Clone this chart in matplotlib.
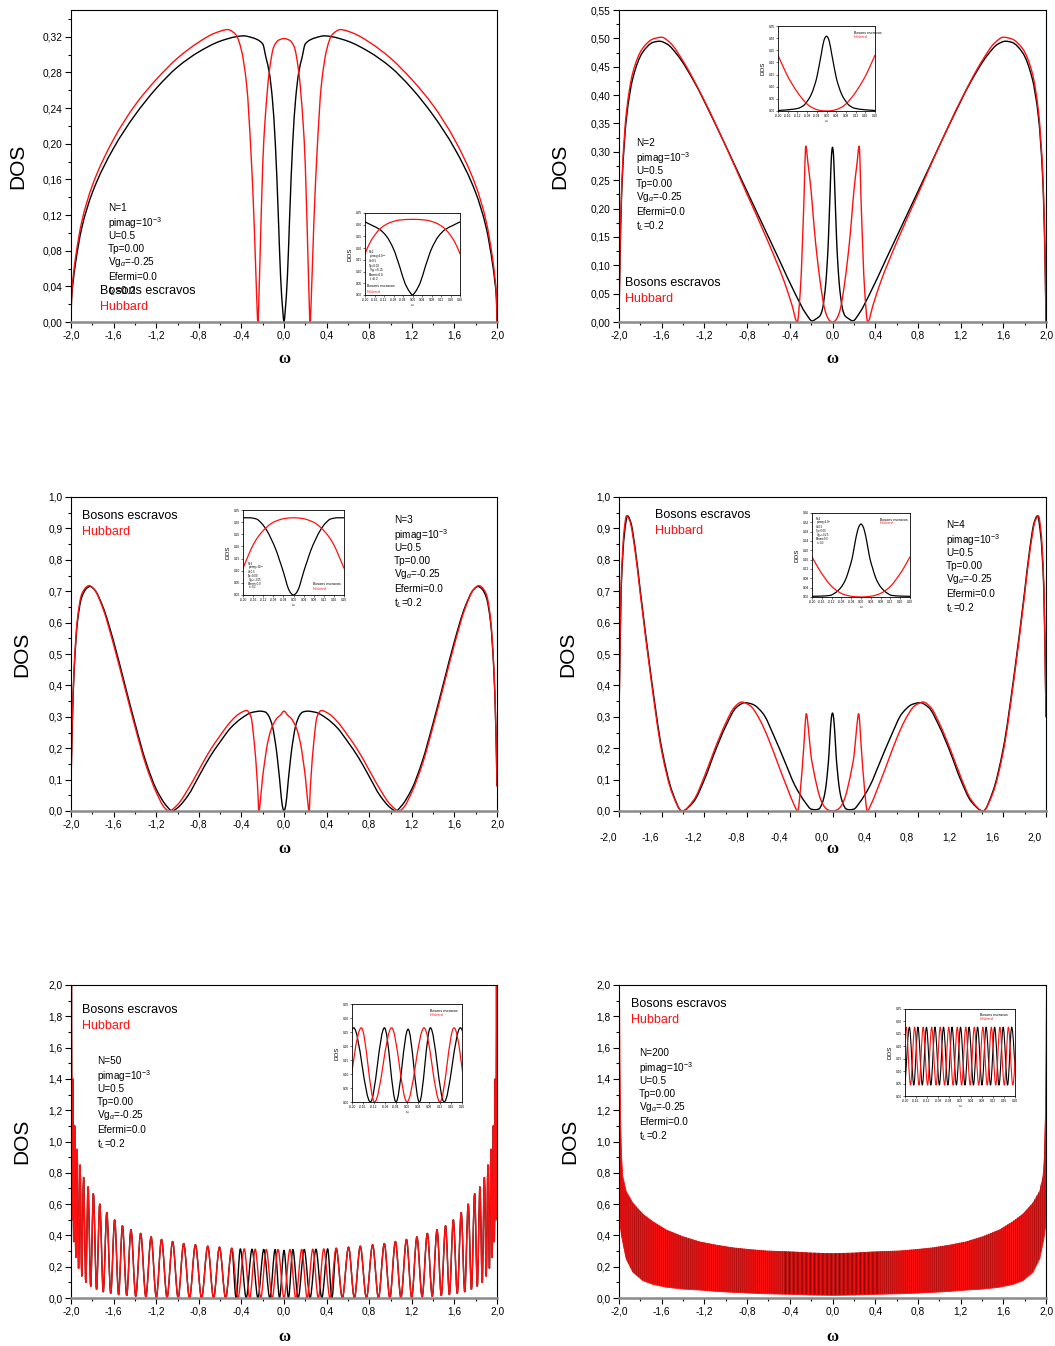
import matplotlib
matplotlib.use('Agg')
from matplotlib import pyplot as plt
from matplotlib.path import Path
from matplotlib.patches import PathPatch
from matplotlib.ticker import MultipleLocator, FuncFormatter
from matplotlib.transforms import ScaledTranslation

plt.rcParams['font.family'] = ['Liberation Sans', 'DejaVu Sans']
plt.rcParams['mathtext.fontset'] = 'custom'
plt.rcParams['mathtext.rm'] = 'Liberation Sans'
plt.rcParams['mathtext.it'] = 'Liberation Sans:italic'
plt.rcParams['hatch.linewidth'] = 0.7

RED = '#ff1010'
W, H = 1055, 1346

# ---------------- N=1 ----------------
n1_black_x = [-2.0, -1.995, -1.98, -1.96, -1.9, -1.8, -1.6, -1.4, -1.2, -1.0, -0.8, -0.6, -0.45, -0.38,
              -0.3, -0.2, -0.17, -0.137, -0.109, -0.081, -0.053, -0.032, -0.011, 0.0,
              0.011, 0.032, 0.053, 0.081, 0.109, 0.137, 0.17, 0.2, 0.3, 0.38, 0.45, 0.6, 0.8,
              1.0, 1.2, 1.4, 1.6, 1.8, 1.9, 1.96, 1.98, 1.995, 2.0]
n1_black_y = [0.0, 0.025, 0.045, 0.064, 0.105, 0.145, 0.195, 0.232, 0.262, 0.286, 0.303, 0.315, 0.32, 0.321,
              0.319, 0.312, 0.297, 0.279, 0.25, 0.199, 0.118, 0.051, 0.012, 0.0,
              0.012, 0.051, 0.118, 0.199, 0.25, 0.279, 0.297, 0.312, 0.319, 0.321, 0.32, 0.315, 0.303,
              0.286, 0.262, 0.232, 0.195, 0.145, 0.105, 0.064, 0.045, 0.025, 0.0]
n1_red_x = [-2.0, -1.995, -1.98, -1.96, -1.9, -1.8, -1.6, -1.4, -1.2, -1.0, -0.8, -0.65, -0.53, -0.45,
            -0.4, -0.35, -0.31, -0.28, -0.26, -0.245, -0.23, -0.2, -0.179, -0.137, -0.095, -0.053, 0.0,
            0.053, 0.095, 0.137, 0.179, 0.2, 0.23, 0.245, 0.26, 0.28, 0.31, 0.35, 0.4, 0.45, 0.53,
            0.65, 0.8, 1.0, 1.2, 1.4, 1.6, 1.8, 1.9, 1.96, 1.98, 1.995, 2.0]
n1_red_y = [0.0, 0.028, 0.05, 0.07, 0.112, 0.153, 0.205, 0.243, 0.272, 0.296, 0.314, 0.324, 0.328, 0.322,
            0.305, 0.265, 0.19, 0.11, 0.04, 0.0, 0.05, 0.176, 0.224, 0.282, 0.309, 0.316, 0.318,
            0.316, 0.309, 0.282, 0.224, 0.176, 0.05, 0.0, 0.04, 0.11, 0.19, 0.265, 0.305, 0.322, 0.328,
            0.324, 0.314, 0.296, 0.272, 0.243, 0.205, 0.153, 0.112, 0.07, 0.05, 0.028, 0.0]
n1_in_black_x = [-0.2, -0.17, -0.137, -0.109, -0.081, -0.053, -0.032, -0.011, 0.0, 0.011, 0.032, 0.053, 0.081, 0.109, 0.137, 0.17, 0.2]
n1_in_black_y = [0.312, 0.297, 0.279, 0.25, 0.199, 0.118, 0.051, 0.012, 0.0, 0.012, 0.051, 0.118, 0.199, 0.25, 0.279, 0.297, 0.312]
n1_in_red_x = [-0.2, -0.179, -0.158, -0.137, -0.116, -0.095, -0.053, 0.0, 0.053, 0.095, 0.116, 0.137, 0.158, 0.179, 0.2]
n1_in_red_y = [0.176, 0.224, 0.257, 0.282, 0.298, 0.309, 0.32, 0.323, 0.32, 0.309, 0.298, 0.282, 0.257, 0.224, 0.176]

# ---------------- N=2 ----------------
n2_black_x = [-2.0, -1.99, -1.97, -1.93, -1.87, -1.78, -1.68, -1.62, -1.55, -1.45, -1.3, -1.1, -0.9, -0.7,
              -0.5, -0.35, -0.25, -0.19, -0.15, -0.117, -0.095, -0.076, -0.062, -0.051, -0.042, -0.034,
              -0.027, -0.021, -0.013, -0.006, 0.0, 0.006, 0.013, 0.021, 0.027, 0.034, 0.042, 0.051, 0.062,
              0.076, 0.095, 0.117, 0.15, 0.19, 0.25, 0.35, 0.5, 0.7, 0.9, 1.1, 1.3, 1.45, 1.55, 1.62,
              1.68, 1.78, 1.87, 1.93, 1.97, 1.99, 2.0]
n2_black_y = [0.0, 0.12, 0.25, 0.36, 0.43, 0.475, 0.493, 0.495, 0.49, 0.47, 0.425, 0.35, 0.27, 0.19,
              0.11, 0.05, 0.015, 0.002, 0.006, 0.011, 0.022, 0.045, 0.07, 0.1, 0.13, 0.168,
              0.205, 0.237, 0.28, 0.302, 0.308, 0.302, 0.28, 0.237, 0.205, 0.168, 0.13, 0.1, 0.07,
              0.045, 0.022, 0.011, 0.006, 0.002, 0.015, 0.05, 0.11, 0.19, 0.27, 0.35, 0.425, 0.47, 0.49, 0.495,
              0.493, 0.475, 0.43, 0.36, 0.25, 0.12, 0.0]
n2_red_x = [-2.0, -1.99, -1.97, -1.93, -1.87, -1.78, -1.68, -1.6, -1.52, -1.4, -1.2, -1.0, -0.8, -0.6,
            -0.45, -0.38, -0.33, -0.3, -0.27, -0.25, -0.23, -0.2, -0.18, -0.159, -0.138, -0.117, -0.096,
            -0.076, -0.055, -0.034, -0.017, 0.0, 0.017, 0.034, 0.055, 0.076, 0.096, 0.117, 0.138, 0.159,
            0.18, 0.2, 0.23, 0.25, 0.27, 0.3, 0.33, 0.38, 0.45, 0.6, 0.8, 1.0, 1.2, 1.4, 1.52, 1.6,
            1.68, 1.78, 1.87, 1.93, 1.97, 1.99, 2.0]
n2_red_y = [0.0, 0.13, 0.26, 0.37, 0.44, 0.482, 0.499, 0.502, 0.492, 0.46, 0.39, 0.31, 0.225, 0.14,
            0.07, 0.03, 0.0, 0.06, 0.2, 0.31, 0.28, 0.23, 0.185, 0.141, 0.105, 0.073, 0.046,
            0.025, 0.012, 0.004, 0.001, 0.0, 0.001, 0.004, 0.012, 0.025, 0.046, 0.073, 0.105, 0.141,
            0.185, 0.23, 0.28, 0.31, 0.2, 0.06, 0.0, 0.03, 0.07, 0.14, 0.225, 0.31, 0.39, 0.46, 0.492, 0.502,
            0.499, 0.482, 0.44, 0.37, 0.26, 0.13, 0.0]
n2_in_black_x = [-0.2, -0.186, -0.15, -0.117, -0.095, -0.076, -0.062, -0.051, -0.042, -0.034, -0.027, -0.021,
                 -0.013, -0.006, 0.0, 0.006, 0.013, 0.021, 0.027, 0.034, 0.042, 0.051, 0.062, 0.076, 0.095,
                 0.117, 0.15, 0.186, 0.2]
n2_in_black_y = [0.002, 0.003, 0.006, 0.011, 0.022, 0.045, 0.07, 0.1, 0.13, 0.168, 0.205, 0.237,
                 0.28, 0.302, 0.308, 0.302, 0.28, 0.237, 0.205, 0.168, 0.13, 0.1, 0.07, 0.045, 0.022,
                 0.011, 0.006, 0.003, 0.002]
n2_in_red_x = [-0.2, -0.18, -0.159, -0.138, -0.117, -0.096, -0.076, -0.055, -0.034, -0.017, 0.0,
               0.017, 0.034, 0.055, 0.076, 0.096, 0.117, 0.138, 0.159, 0.18, 0.2]
n2_in_red_y = [0.23, 0.185, 0.141, 0.105, 0.073, 0.046, 0.025, 0.012, 0.004, 0.001, 0.0,
               0.001, 0.004, 0.012, 0.025, 0.046, 0.073, 0.105, 0.141, 0.185, 0.23]

# ---------------- N=3 ----------------
n3_black_x = [-2.0, -1.99, -1.97, -1.94, -1.9, -1.85, -1.82, -1.78, -1.7, -1.6, -1.5, -1.4, -1.3, -1.2,
              -1.1, -1.05, -1.0, -0.9, -0.8, -0.7, -0.6, -0.5, -0.4, -0.3, -0.22, -0.175, -0.147, -0.127,
              -0.107, -0.088, -0.068, -0.055, -0.041, -0.031, -0.021, -0.01, 0.0, 0.01, 0.021, 0.031, 0.041,
              0.055, 0.068, 0.088, 0.107, 0.127, 0.147, 0.175, 0.22, 0.3, 0.4, 0.5, 0.6, 0.7, 0.8, 0.9, 1.0,
              1.05, 1.1, 1.2, 1.3, 1.4, 1.5, 1.6, 1.7, 1.78, 1.82, 1.85, 1.9, 1.94, 1.97, 1.99, 2.0]
n3_black_y = [0.08, 0.25, 0.45, 0.6, 0.68, 0.71, 0.715, 0.705, 0.65, 0.54, 0.41, 0.28, 0.16, 0.07,
              0.015, 0.0, 0.01, 0.05, 0.11, 0.17, 0.22, 0.265, 0.295, 0.314, 0.318, 0.315, 0.305, 0.29,
              0.268, 0.232, 0.185, 0.145, 0.1, 0.063, 0.03, 0.008, 0.0, 0.008, 0.03, 0.063, 0.1,
              0.145, 0.185, 0.232, 0.268, 0.29, 0.305, 0.315, 0.318, 0.314, 0.295, 0.265, 0.22, 0.17, 0.11, 0.05, 0.01,
              0.0, 0.015, 0.07, 0.16, 0.28, 0.41, 0.54, 0.65, 0.705, 0.715, 0.71, 0.68, 0.6, 0.45, 0.25, 0.08]
n3_red_x = [-2.0, -1.99, -1.97, -1.94, -1.9, -1.85, -1.83, -1.78, -1.7, -1.6, -1.5, -1.4, -1.3, -1.2,
            -1.12, -1.08, -1.0, -0.9, -0.8, -0.7, -0.6, -0.5, -0.42, -0.35, -0.31, -0.28, -0.25, -0.235,
            -0.22, -0.2, -0.18, -0.16, -0.14, -0.12, -0.09, -0.068, -0.035, 0.0, 0.035, 0.068, 0.09, 0.12,
            0.14, 0.16, 0.18, 0.2, 0.22, 0.235, 0.25, 0.28, 0.31, 0.35, 0.42, 0.5, 0.6, 0.7, 0.8, 0.9,
            1.0, 1.08, 1.12, 1.2, 1.3, 1.4, 1.5, 1.6, 1.7, 1.78, 1.83, 1.85, 1.9, 1.94, 1.97, 1.99, 2.0]
n3_red_y = [0.08, 0.26, 0.46, 0.61, 0.69, 0.715, 0.718, 0.705, 0.645, 0.53, 0.4, 0.27, 0.15, 0.06,
            0.01, 0.0, 0.02, 0.07, 0.13, 0.19, 0.24, 0.285, 0.31, 0.32, 0.3, 0.22, 0.09, 0.0,
            0.04, 0.11, 0.16, 0.206, 0.237, 0.261, 0.283, 0.295, 0.305, 0.318, 0.305, 0.295, 0.283, 0.261,
            0.237, 0.206, 0.16, 0.11, 0.04, 0.0, 0.09, 0.22, 0.3, 0.32, 0.31, 0.285, 0.24, 0.19, 0.13, 0.07,
            0.02, 0.0, 0.01, 0.06, 0.15, 0.27, 0.4, 0.53, 0.645, 0.705, 0.718, 0.715, 0.69, 0.61, 0.46, 0.26, 0.08]
n3_in_black_x = [-0.2, -0.175, -0.147, -0.127, -0.107, -0.088, -0.068, -0.055, -0.041, -0.031, -0.021, -0.01, 0.0,
                 0.01, 0.021, 0.031, 0.041, 0.055, 0.068, 0.088, 0.107, 0.127, 0.147, 0.175, 0.2]
n3_in_black_y = [0.318, 0.318, 0.313, 0.296, 0.268, 0.23, 0.182, 0.142, 0.098, 0.062, 0.028, 0.007, 0.0,
                 0.007, 0.028, 0.062, 0.098, 0.142, 0.182, 0.23, 0.268, 0.296, 0.313, 0.318, 0.318]
n3_in_red_x = [-0.2, -0.18, -0.16, -0.14, -0.12, -0.09, -0.068, -0.035, 0.0, 0.035, 0.068, 0.09, 0.12, 0.14, 0.16, 0.18, 0.2]
n3_in_red_y = [0.11, 0.16, 0.206, 0.24, 0.265, 0.293, 0.305, 0.315, 0.318, 0.315, 0.305, 0.293, 0.265, 0.24, 0.206, 0.16, 0.11]

# ---------------- N=4 ----------------
n4_black_x = [-2.0, -1.98, -1.95, -1.92, -1.89, -1.85, -1.8, -1.7, -1.6, -1.5, -1.41, -1.3, -1.2, -1.1, -1.0,
              -0.9, -0.82, -0.75, -0.65, -0.55, -0.45, -0.35, -0.25, -0.2, -0.16, -0.125, -0.105, -0.085,
              -0.07, -0.058, -0.047, -0.037, -0.03, -0.024, -0.015, -0.007, 0.0, 0.007, 0.015, 0.024, 0.03,
              0.037, 0.047, 0.058, 0.07, 0.085, 0.105, 0.125, 0.16, 0.2, 0.25, 0.35, 0.45, 0.55, 0.65, 0.75,
              0.82, 0.9, 1.0, 1.1, 1.2, 1.3, 1.41, 1.5, 1.6, 1.7, 1.8, 1.85, 1.89, 1.92, 1.95, 1.98, 2.0]
n4_black_y = [0.3, 0.7, 0.88, 0.94, 0.92, 0.84, 0.7, 0.43, 0.2, 0.06, 0.0, 0.03, 0.1, 0.19, 0.27,
              0.33, 0.345, 0.34, 0.31, 0.24, 0.16, 0.08, 0.025, 0.006, 0.004, 0.007, 0.018, 0.037,
              0.06, 0.088, 0.125, 0.162, 0.2, 0.235, 0.28, 0.305, 0.312, 0.305, 0.28, 0.235, 0.2,
              0.162, 0.125, 0.088, 0.06, 0.037, 0.018, 0.007, 0.004, 0.006, 0.025, 0.08, 0.16, 0.24, 0.31, 0.34,
              0.345, 0.33, 0.27, 0.19, 0.1, 0.03, 0.0, 0.06, 0.2, 0.43, 0.7, 0.84, 0.92, 0.94, 0.88, 0.7, 0.3]
n4_red_x = [-2.0, -1.98, -1.95, -1.93, -1.9, -1.85, -1.8, -1.7, -1.6, -1.5, -1.41, -1.3, -1.2, -1.1, -1.0,
            -0.92, -0.85, -0.77, -0.68, -0.6, -0.5, -0.42, -0.36, -0.326, -0.3, -0.27, -0.245, -0.225,
            -0.2, -0.183, -0.166, -0.145, -0.125, -0.105, -0.085, -0.064, -0.044, -0.02, 0.0, 0.02, 0.044,
            0.064, 0.085, 0.105, 0.125, 0.145, 0.166, 0.183, 0.2, 0.225, 0.245, 0.27, 0.3, 0.326, 0.36,
            0.42, 0.5, 0.6, 0.68, 0.77, 0.85, 0.92, 1.0, 1.1, 1.2, 1.3, 1.41, 1.5, 1.6, 1.7, 1.8, 1.85,
            1.9, 1.93, 1.95, 1.98, 2.0]
n4_red_y = [0.3, 0.72, 0.9, 0.94, 0.925, 0.83, 0.69, 0.42, 0.19, 0.055, 0.0, 0.035, 0.11, 0.2, 0.28,
            0.33, 0.347, 0.335, 0.29, 0.23, 0.14, 0.07, 0.02, 0.0, 0.07, 0.2, 0.31, 0.26,
            0.172, 0.14, 0.11, 0.078, 0.051, 0.032, 0.018, 0.009, 0.004, 0.001, 0.0, 0.001, 0.004,
            0.009, 0.018, 0.032, 0.051, 0.078, 0.11, 0.14, 0.172, 0.26, 0.31, 0.2, 0.07, 0.0, 0.02,
            0.07, 0.14, 0.23, 0.29, 0.335, 0.347, 0.33, 0.28, 0.2, 0.11, 0.035, 0.0, 0.055, 0.19, 0.42, 0.69, 0.83,
            0.925, 0.94, 0.9, 0.72, 0.3]
n4_in_black_x = [-0.2, -0.16, -0.125, -0.105, -0.085, -0.07, -0.058, -0.047, -0.037, -0.03, -0.024, -0.015,
                 -0.007, 0.0, 0.007, 0.015, 0.024, 0.03, 0.037, 0.047, 0.058, 0.07, 0.085, 0.105, 0.125, 0.16, 0.2]
n4_in_black_y = [0.003, 0.004, 0.007, 0.018, 0.037, 0.06, 0.088, 0.125, 0.162, 0.2, 0.235, 0.28,
                 0.305, 0.313, 0.305, 0.28, 0.235, 0.2, 0.162, 0.125, 0.088, 0.06, 0.037, 0.018, 0.007, 0.004, 0.003]
n4_in_red_x = [-0.2, -0.183, -0.166, -0.145, -0.125, -0.105, -0.085, -0.064, -0.044, -0.02, 0.0,
               0.02, 0.044, 0.064, 0.085, 0.105, 0.125, 0.145, 0.166, 0.183, 0.2]
n4_in_red_y = [0.172, 0.14, 0.11, 0.078, 0.051, 0.032, 0.018, 0.009, 0.004, 0.001, 0.0,
               0.001, 0.004, 0.009, 0.018, 0.032, 0.051, 0.078, 0.11, 0.14, 0.172]

# ---------------- N=50 (extrema, alternating) ----------------
n50_left_x = [-2.0, -1.996, -1.99, -1.984, -1.975, -1.966, -1.955, -1.943, -1.929, -1.915, -1.899, -1.882,
              -1.861, -1.84, -1.815, -1.79, -1.76, -1.73, -1.697, -1.664, -1.627, -1.59, -1.553, -1.517,
              -1.477, -1.437, -1.392, -1.346, -1.297, -1.248, -1.199, -1.15, -1.098, -1.046, -0.994, -0.942,
              -0.887, -0.832, -0.774, -0.716, -0.661, -0.606, -0.548, -0.49]
n50_left_y = [0.7, 2.0, 0.5, 1.4, 0.36, 1.1, 0.26, 0.95, 0.19, 0.85, 0.14, 0.77,
              0.1, 0.71, 0.075, 0.667, 0.055, 0.6, 0.04, 0.546, 0.03, 0.499, 0.022, 0.462,
              0.016, 0.437, 0.011, 0.413, 0.007, 0.391, 0.004, 0.374, 0.002, 0.361, 0.0, 0.348,
              0.0, 0.34, 0.0, 0.331, 0.0, 0.325, 0.0, 0.318]
n50_right_x = [0.49, 0.548, 0.606, 0.661, 0.716, 0.774, 0.832, 0.887, 0.942, 0.994, 1.046, 1.098, 1.15,
               1.199, 1.248, 1.297, 1.346, 1.392, 1.437, 1.477, 1.517, 1.553, 1.59, 1.627, 1.664, 1.697,
               1.73, 1.76, 1.79, 1.815, 1.84, 1.861, 1.882, 1.899, 1.915, 1.929, 1.943, 1.955, 1.966,
               1.975, 1.984, 1.99, 1.996, 2.0]
n50_right_y = [0.318, 0.0, 0.325, 0.0, 0.331, 0.0, 0.34, 0.0, 0.348, 0.0, 0.361, 0.002, 0.374,
               0.004, 0.391, 0.007, 0.413, 0.011, 0.437, 0.016, 0.462, 0.022, 0.499, 0.03, 0.546, 0.04,
               0.6, 0.055, 0.667, 0.075, 0.71, 0.1, 0.77, 0.14, 0.85, 0.19, 0.95, 0.26, 1.1,
               0.36, 1.4, 0.5, 2.0, 0.7]
n50_red_mid_x = [-0.432, -0.373, -0.322, -0.27, -0.218, -0.166, -0.111, -0.056, 0.0, 0.056, 0.111, 0.166,
                 0.218, 0.27, 0.322, 0.373, 0.432]
n50_red_mid_y = [0.0, 0.314, 0.0, 0.312, 0.0, 0.31, 0.0, 0.31, 0.0, 0.31, 0.0, 0.31,
                 0.0, 0.312, 0.0, 0.314, 0.0]
n50_black_mid_x = [-0.45, -0.41, -0.355, -0.3, -0.245, -0.19, -0.133, -0.083, -0.042, 0.0, 0.042, 0.083,
                   0.133, 0.19, 0.245, 0.3, 0.355, 0.41, 0.45]
n50_black_mid_y = [0.0, 0.314, 0.0, 0.312, 0.0, 0.31, 0.0, 0.31, 0.0, 0.305, 0.0, 0.31,
                   0.0, 0.31, 0.0, 0.312, 0.0, 0.314, 0.0]
n50_in_black_x = [-0.245, -0.194, -0.133, -0.082, -0.04, 0.004, 0.045, 0.085, 0.135, 0.194, 0.245]
n50_in_black_y = [0.0, 0.265, 0.0, 0.265, 0.0, 0.26, 0.0, 0.265, 0.0, 0.265, 0.0]
n50_in_red_x = [-0.218, -0.166, -0.118, -0.056, 0.0, 0.062, 0.12, 0.171, 0.218]
n50_in_red_y = [0.0, 0.265, 0.0, 0.265, 0.0, 0.265, 0.0, 0.265, 0.0]

# ---------------- N=200 (band envelopes) ----------------
n200_x = [-2.0, -1.995, -1.99, -1.98, -1.969, -1.937, -1.874, -1.78, -1.686, -1.56, -1.404, -1.247, -1.09,
          -0.933, -0.776, -0.62, -0.37, -0.2, 0.0, 0.2, 0.37, 0.62, 0.776, 0.933, 1.09, 1.247, 1.404, 1.56,
          1.686, 1.78, 1.874, 1.937, 1.969, 1.98, 1.99, 1.995, 2.0]
n200_upper = [2.0, 1.5, 1.15, 0.9, 0.78, 0.684, 0.609, 0.538, 0.49, 0.437, 0.394, 0.361, 0.34,
              0.323, 0.312, 0.303, 0.297, 0.29, 0.286, 0.29, 0.297, 0.303, 0.312, 0.323, 0.34, 0.361, 0.394, 0.437,
              0.49, 0.538, 0.609, 0.684, 0.78, 0.9, 1.15, 1.5, 2.0]
n200_lower = [0.57, 0.5, 0.45, 0.4, 0.36, 0.254, 0.168, 0.114, 0.09, 0.072, 0.06, 0.054, 0.045,
              0.039, 0.034, 0.03, 0.026, 0.022, 0.02, 0.022, 0.026, 0.03, 0.034, 0.039, 0.045, 0.054, 0.06, 0.072,
              0.09, 0.114, 0.168, 0.254, 0.36, 0.4, 0.45, 0.5, 0.57]
n200_dark_x = [-0.45, -0.2, 0.0, 0.2, 0.45]
n200_dark_upper = [0.295, 0.29, 0.286, 0.29, 0.295]
n200_dark_lower = [0.026, 0.022, 0.02, 0.022, 0.026]
n200_in_red_x = [-0.212, -0.196, -0.180, -0.165, -0.149, -0.134, -0.118, -0.103, -0.087, -0.072, -0.056,
                 -0.041, -0.025, -0.010, 0.006, 0.021, 0.037, 0.052, 0.068, 0.083, 0.099, 0.114, 0.130,
                 0.145, 0.161, 0.176, 0.192, 0.207]
n200_in_red_y = [0.044, 0.277, 0.044, 0.277, 0.044, 0.277, 0.044, 0.277, 0.044, 0.277, 0.044,
                 0.277, 0.044, 0.277, 0.044, 0.277, 0.044, 0.277, 0.044, 0.277, 0.044, 0.277, 0.044,
                 0.277, 0.044, 0.277, 0.044, 0.277]
n200_in_black_x = [-0.2, -0.184, -0.168, -0.153, -0.137, -0.122, -0.106, -0.091, -0.075, -0.060, -0.044,
                   -0.029, -0.013, 0.002, 0.018, 0.033, 0.049, 0.064, 0.080, 0.095, 0.111, 0.126, 0.142,
                   0.157, 0.173, 0.188, 0.204]
n200_in_black_y = [0.044, 0.277, 0.044, 0.277, 0.044, 0.277, 0.044, 0.277, 0.044, 0.277, 0.044,
                   0.277, 0.044, 0.277, 0.044, 0.277, 0.044, 0.277, 0.044, 0.277, 0.044, 0.277, 0.044,
                   0.277, 0.044, 0.277, 0.044]

params = ['pimag=10$^{-3}$', 'U=0.5', 'Tp=0.00', 'Vg$_{\\alpha}$=-0.25', 'Efermi=0.0', 't$_{L}$=0.2']
param_dy = [15, 28, 41, 54, 69, 83]

fig = plt.figure(figsize=(W / 100, H / 100), dpi=100)


def rect(l, t, r, b):
    return [l / W, 1 - b / H, (r - l) / W, (b - t) / H]


def ftxt(x, y, s, **kw):
    fig.text(x / W, 1 - y / H, s, va='center', **kw)


def comma(nd):
    def f(v, p):
        s = f'{v:.{nd}f}'
        if s.startswith('-') and float(s) == 0:
            s = s[1:]
        return s.replace('.', ',')
    return FuncFormatter(f)


def curve(ax, xs, ys, color, lw):
    # smooth line through the read points (monotone cubic segments, flat at extrema)
    n = len(xs)
    h = [xs[i + 1] - xs[i] for i in range(n - 1)]
    d = [(ys[i + 1] - ys[i]) / h[i] for i in range(n - 1)]
    m = [d[0]] + [0.0] * (n - 2) + [d[-1]]
    for i in range(1, n - 1):
        if d[i - 1] * d[i] > 0:
            w1, w2 = 2 * h[i] + h[i - 1], h[i] + 2 * h[i - 1]
            m[i] = (w1 + w2) / (w1 / d[i - 1] + w2 / d[i])
    verts = [(xs[0], ys[0])]
    codes = [Path.MOVETO]
    for i in range(n - 1):
        verts += [(xs[i] + h[i] / 3, ys[i] + m[i] * h[i] / 3),
                  (xs[i + 1] - h[i] / 3, ys[i + 1] - m[i + 1] * h[i] / 3),
                  (xs[i + 1], ys[i + 1])]
        codes += [Path.CURVE4] * 3
    ax.add_patch(PathPatch(Path(verts, codes), fill=False, edgecolor=color, lw=lw, capstyle='round', joinstyle='round'))


def main_axes(box, top, ymaj, nd):
    ax = fig.add_axes(rect(*box))
    ax.set_xlim(-2, 2)
    ax.set_ylim(0, top)
    ax.xaxis.set_major_locator(MultipleLocator(0.4))
    ax.xaxis.set_minor_locator(MultipleLocator(0.2))
    ax.yaxis.set_major_locator(MultipleLocator(ymaj))
    ax.yaxis.set_minor_locator(MultipleLocator(ymaj / 2))
    ax.xaxis.set_major_formatter(comma(1))
    ax.yaxis.set_major_formatter(comma(nd))
    ax.tick_params(which='both', direction='out', labelsize=7.3, width=0.8, pad=2)
    ax.tick_params(which='major', length=4)
    ax.tick_params(which='minor', length=2.5)
    ax.spines['bottom'].set_color('#8a8a8a')
    ax.spines['bottom'].set_linewidth(1.8)
    for s in ['left', 'top', 'right']:
        ax.spines[s].set_linewidth(0.8)
    return ax


def inset_axes(box, top, ymaj):
    ax = fig.add_axes(rect(*box))
    ax.set_xlim(-0.2, 0.2)
    ax.set_ylim(0, top)
    ax.xaxis.set_major_locator(MultipleLocator(0.04))
    ax.yaxis.set_major_locator(MultipleLocator(ymaj))
    ax.xaxis.set_major_formatter(FuncFormatter(lambda v, p: f'{v:.2f}'.replace('-0.00', '0.00')))
    ax.yaxis.set_major_formatter(FuncFormatter(lambda v, p: f'{v:.2f}'))
    ax.tick_params(which='both', direction='out', labelsize=2.3, width=0.4, length=1.2, pad=1)
    for s in ax.spines.values():
        s.set_linewidth(0.6)
    ax.set_ylabel('DOS', fontsize=4.5, labelpad=2)
    ax.set_xlabel('ω', fontsize=3, labelpad=1, family=['Liberation Serif', 'DejaVu Serif'])
    return ax


def inset_legend(ax, x, y, dy=0.05):
    ax.text(x, y, 'Bosons escravos', transform=ax.transAxes, fontsize=2.6, va='center')
    ax.text(x, y - dy, 'Hubbard', transform=ax.transAxes, fontsize=2.6, va='center', color=RED)


def inset_params(ax, x, y, n, dy=0.055, size=2.2):
    lines = [f'N={n}'] + params
    for i, s in enumerate(lines):
        ax.text(x, y - i * dy, s, transform=ax.transAxes, fontsize=size, va='center')


def decorate(box, n, leg, par, dos_x, omega_y):
    l, t, r, b = box
    ftxt(dos_x, (t + b) / 2, 'DOS', fontsize=15, rotation=90, ha='center')
    ftxt((l + r) / 2, omega_y, 'ω', fontsize=12, ha='center', weight='bold',
         family=['Liberation Serif', 'DejaVu Serif'])
    ftxt(leg[0], leg[1], 'Bosons escravos', fontsize=9)
    ftxt(leg[0], leg[1] + 16, 'Hubbard', fontsize=9, color=RED)
    ftxt(par[0], par[1], f'N={n}', fontsize=7.2)
    for s, dy in zip(params, param_dy):
        ftxt(par[0], par[1] + dy, s, fontsize=7.2)


LW = 1.0

# ---- N=1 ----
box1 = (71, 10, 497, 322)
ax = main_axes(box1, 0.35, 0.04, 2)
curve(ax, n1_black_x, n1_black_y, 'black', LW)
curve(ax, n1_red_x, n1_red_y, RED, LW)
decorate(box1, 1, (100, 291), (108, 208), 18, 359)
ia = inset_axes((365, 213, 460, 295), 0.35, 0.05)
curve(ia, n1_in_black_x, n1_in_black_y, 'black', 0.9)
curve(ia, n1_in_red_x, n1_in_red_y, RED, 0.9)
inset_params(ia, 0.04, 0.52, 1)
inset_legend(ia, 0.02, 0.11, 0.075)

# ---- N=2 ----
box2 = (619, 10, 1046, 322)
ax = main_axes(box2, 0.55, 0.05, 2)
curve(ax, n2_black_x, n2_black_y, 'black', LW)
curve(ax, n2_red_x, n2_red_y, RED, LW)
decorate(box2, 2, (625, 283), (636, 143), 560, 359)
ia = inset_axes((778, 26, 875, 111), 0.35, 0.05)
curve(ia, n2_in_black_x, n2_in_black_y, 'black', 0.9)
curve(ia, n2_in_red_x, n2_in_red_y, RED, 0.9)
inset_legend(ia, 0.78, 0.92, 0.045)

# ---- N=3 ----
box3 = (71, 497, 497, 811)
ax = main_axes(box3, 1.0, 0.1, 1)
curve(ax, n3_black_x, n3_black_y, 'black', LW)
curve(ax, n3_red_x, n3_red_y, RED, LW)
decorate(box3, 3, (82, 516), (394, 520), 22, 849)
ia = inset_axes((243, 510, 344, 595), 0.35, 0.05)
curve(ia, n3_in_black_x, n3_in_black_y, 'black', 0.9)
curve(ia, n3_in_red_x, n3_in_red_y, RED, 0.9)
inset_params(ia, 0.05, 0.36, 3, 0.045, 2.0)
inset_legend(ia, 0.69, 0.13, 0.06)

# ---- N=4 ----
box4 = (619, 497, 1046, 811)
ax = main_axes(box4, 1.0, 0.1, 1)
curve(ax, n4_black_x, n4_black_y, 'black', LW)
curve(ax, n4_red_x, n4_red_y, RED, LW)
for lbl in ax.get_xticklabels():
    lbl.set_transform(lbl.get_transform() + ScaledTranslation(-0.11, -0.13, fig.dpi_scale_trans))
decorate(box4, 4, (655, 515), (946, 525), 568, 849)
ia = inset_axes((812, 513, 910, 597), 0.36, 0.04)
curve(ia, n4_in_black_x, n4_in_black_y, 'black', 0.9)
curve(ia, n4_in_red_x, n4_in_red_y, RED, 0.9)
inset_params(ia, 0.04, 0.93, 4, 0.048, 1.9)
inset_legend(ia, 0.69, 0.92, 0.045)

# ---- N=50 ----
box5 = (71, 985, 497, 1298)
ax = main_axes(box5, 2.0, 0.2, 1)
curve(ax, n50_left_x + n50_black_mid_x + n50_right_x, n50_left_y + n50_black_mid_y + n50_right_y, 'black', LW)
curve(ax, n50_left_x + n50_red_mid_x + n50_right_x, n50_left_y + n50_red_mid_y + n50_right_y, RED, LW)
decorate(box5, 50, (82, 1010), (97, 1061), 22, 1337)
ia = inset_axes((352, 1004, 462, 1102), 0.35, 0.05)
curve(ia, n50_in_black_x, n50_in_black_y, 'black', 0.9)
curve(ia, n50_in_red_x, n50_in_red_y, RED, 0.9)
inset_legend(ia, 0.71, 0.93, 0.045)

# ---- N=200 ----
box6 = (619, 985, 1046, 1298)
ax = main_axes(box6, 2.0, 0.2, 1)
ax.fill_between(n200_x, n200_lower, n200_upper, facecolor=RED, edgecolor=RED, lw=0.6)
ax.fill_between(n200_x, n200_lower, n200_upper, facecolor='none', edgecolor='#b31010', hatch='||||||||', lw=0)
ax.fill_between(n200_dark_x, n200_dark_lower, n200_dark_upper, facecolor='none', edgecolor='#300000',
                hatch='||||', lw=0, alpha=0.6)
decorate(box6, 200, (631, 1004), (639, 1053), 570, 1337)
ia = inset_axes((905, 1009, 1015, 1096), 0.35, 0.05)
curve(ia, n200_in_black_x, n200_in_black_y, 'black', 0.8)
curve(ia, n200_in_red_x, n200_in_red_y, RED, 0.8)
inset_legend(ia, 0.68, 0.93, 0.05)

fig.savefig('out.png', dpi=100)
